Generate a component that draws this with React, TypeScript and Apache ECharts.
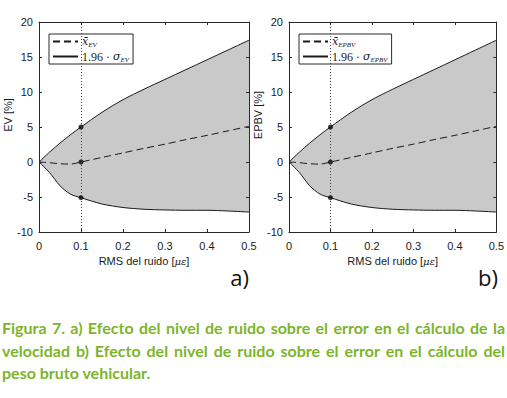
import React, { useEffect, useRef } from "react";
import * as echarts from "echarts";

// RMS noise level (x axis)
const rmsNoise = [0, 0.025, 0.05, 0.075, 0.1, 0.15, 0.2, 0.25, 0.3, 0.35, 0.4, 0.45, 0.5];

// Panel a) EV [%]
const evMean = [0, -0.1, -0.25, -0.3, 0, 0.65, 1.3, 1.95, 2.55, 3.2, 3.8, 4.45, 5.1];
const evUpper = [0, 1.4, 2.7, 3.9, 5.0, 7.1, 8.9, 10.4, 11.8, 13.2, 14.6, 16.0, 17.4];
const evLower = [0, -1.5, -3.4, -4.6, -5.1, -6.0, -6.5, -6.75, -6.85, -6.9, -6.9, -7.0, -7.15];

// Panel b) EPBV [%]
const epbvMean = [0, -0.1, -0.25, -0.3, 0, 0.65, 1.3, 1.95, 2.55, 3.2, 3.8, 4.45, 5.1];
const epbvUpper = [0, 1.4, 2.7, 3.9, 5.0, 7.1, 8.9, 10.4, 11.8, 13.2, 14.6, 16.0, 17.4];
const epbvLower = [0, -1.5, -3.4, -4.6, -5.1, -6.0, -6.5, -6.75, -6.85, -6.9, -6.9, -7.0, -7.15];

// Reference noise level and the marked values there
const refRms = 0.1;
const evMarkers = [5.0, 0, -5.1];
const epbvMarkers = [5.0, 0, -5.1];

const yTicks = { min: -10, max: 20, interval: 5 };
const xTicks = { min: 0, max: 0.5, interval: 0.1 };

const captionLines = [
  "Figura 7. a) Efecto del nivel de ruido sobre el error en el cálculo de la",
  "velocidad b) Efecto del nivel de ruido sobre el error en el cálculo del",
  "peso bruto vehicular.",
];

const AXIS = "#2a2a2a";
const LABEL = "#1a1a1a";
const FILL = "#c9c9c9";
const GREEN = "#7db52a";
const CAP_FONT_FAMILY = "Lato";
const CAP_FONT_SIZE = 16;
const CAP_FONT_WEIGHT = 700;

function measure(text: string, font: string): number {
  const ctx = document.createElement("canvas").getContext("2d")!;
  ctx.font = font;
  return ctx.measureText(text).width;
}

function pairs(xs: number[], ys: number[]) {
  return xs.map((x, i) => [x, ys[i]]);
}

export default function App() {
  const ref = useRef<HTMLDivElement>(null);

  useEffect(() => {
    if (!ref.current) return;
    const chart = echarts.init(ref.current, undefined, { renderer: "svg" });

    const grids = [
      { left: 39, top: 22, width: 210, height: 210 },
      { left: 289, top: 22, width: 209, height: 210 },
    ];

    const xAxes: any[] = [];
    const yAxes: any[] = [];
    const yNames = ["EV [%]", "EPBV [%]"];
    grids.forEach((_, g) => {
      const common = {
        gridIndex: g,
        type: "value",
        z: 10,
        ...xTicks,
        axisLine: { show: true, onZero: false, lineStyle: { color: AXIS, width: 1 } },
        axisTick: { show: true, inside: true, length: 3, lineStyle: { color: AXIS } },
        splitLine: { show: false },
      };
      xAxes.push({
        ...common,
        position: "bottom",
        axisLabel: {
          color: LABEL,
          fontFamily: "Liberation Sans",
          fontSize: 11,
          margin: 8,
          formatter: (v: number) => String(Math.round(v * 10) / 10),
        },
        name: "{n|RMS del ruido [}{m|με}{n|]}",
        nameLocation: "middle",
        nameGap: 22,
        nameTextStyle: {
          rich: {
            n: { fontFamily: "Liberation Sans", fontSize: 11, color: LABEL },
            m: { fontFamily: "DejaVu Serif", fontStyle: "italic", fontSize: 10, color: LABEL },
          },
        },
      });
      xAxes.push({ ...common, position: "top", axisLabel: { show: false } });
      const ycommon = {
        gridIndex: g,
        type: "value",
        z: 10,
        ...yTicks,
        axisLine: { show: true, onZero: false, lineStyle: { color: AXIS, width: 1 } },
        axisTick: { show: true, inside: true, length: 3, lineStyle: { color: AXIS } },
        splitLine: { show: false },
      };
      yAxes.push({
        ...ycommon,
        position: "left",
        axisLabel: { color: LABEL, fontFamily: "Liberation Sans", fontSize: 11, margin: 6 },
        name: yNames[g],
        nameLocation: "middle",
        nameGap: 20,
        nameTextStyle: {
          fontFamily: "Liberation Sans",
          fontSize: 11,
          color: LABEL,
          padding: [0, 0, 0, 24],
        },
      });
      yAxes.push({ ...ycommon, position: "right", axisLabel: { show: false } });
    });

    const panels = [
      { mean: evMean, up: evUpper, lo: evLower, mk: evMarkers, key: "EV" },
      { mean: epbvMean, up: epbvUpper, lo: epbvLower, mk: epbvMarkers, key: "EPBV" },
    ];

    const series: any[] = [];
    const legends: any[] = [];
    panels.forEach((p, g) => {
      const xi = g * 2;
      const yi = g * 2;
      // gray fill from axis start up to the upper bound
      series.push({
        type: "line",
        xAxisIndex: xi,
        yAxisIndex: yi,
        data: pairs(rmsNoise, p.up),
        smooth: 0.3,
        symbol: "none",
        silent: true,
        lineStyle: { opacity: 0 },
        areaStyle: { color: FILL, opacity: 1, origin: "start" },
        z: 1,
      });
      // white fill from axis start up to the lower bound (leaves the band gray)
      series.push({
        type: "line",
        xAxisIndex: xi,
        yAxisIndex: yi,
        data: pairs(rmsNoise, p.lo),
        smooth: 0.3,
        symbol: "none",
        silent: true,
        lineStyle: { opacity: 0 },
        areaStyle: { color: "#ffffff", opacity: 1, origin: "start" },
        z: 1,
      });
      series.push({
        name: "sigma" + p.key,
        type: "line",
        xAxisIndex: xi,
        yAxisIndex: yi,
        data: pairs(rmsNoise, p.up),
        smooth: 0.3,
        symbol: "none",
        lineStyle: { color: "#1a1a1a", width: 1 },
        itemStyle: { color: "#1a1a1a" },
        z: 3,
      });
      series.push({
        name: "lower" + p.key,
        type: "line",
        xAxisIndex: xi,
        yAxisIndex: yi,
        data: pairs(rmsNoise, p.lo),
        smooth: 0.3,
        symbol: "none",
        lineStyle: { color: "#1a1a1a", width: 1 },
        z: 3,
      });
      series.push({
        name: "mean" + p.key,
        type: "line",
        xAxisIndex: xi,
        yAxisIndex: yi,
        data: pairs(rmsNoise, p.mean),
        smooth: 0.3,
        symbol: "none",
        lineStyle: { color: "#1a1a1a", width: 1, type: [7, 4] },
        itemStyle: { color: "#1a1a1a" },
        z: 3,
        markLine: {
          silent: true,
          symbol: "none",
          label: { show: false },
          lineStyle: { color: "#444", width: 1, type: [1, 2] },
          data: [{ xAxis: refRms }],
        },
      });
      series.push({
        type: "scatter",
        xAxisIndex: xi,
        yAxisIndex: yi,
        data: p.mk.map((v) => [refRms, v]),
        symbolSize: 5,
        itemStyle: { color: "#000" },
        z: 4,
        silent: true,
      });
      legends.push({
        data: ["mean" + p.key, "sigma" + p.key],
        orient: "vertical",
        left: grids[g].left + 10,
        top: 34,
        selectedMode: false,
        backgroundColor: "#fff",
        borderColor: AXIS,
        borderWidth: 1,
        borderRadius: 0,
        padding: [1, 4, 1, 3],
        itemWidth: 25,
        itemHeight: 12,
        itemGap: 2,
        itemStyle: { opacity: 0 },
        formatter: (name: string) =>
          name.startsWith("mean")
            ? `{it|x̄}{sub|${p.key}}`
            : `{rm|1.96 · }{it|σ}{sub|${p.key}}`,
        textStyle: {
          color: "#1a1a1a",
          padding: [0, 0, 0, -1],
          rich: {
            it: { fontFamily: "DejaVu Serif", fontStyle: "italic", fontSize: 11, lineHeight: 14 },
            rm: { fontFamily: "Liberation Serif", fontSize: 12, lineHeight: 14 },
            sub: {
              fontFamily: "Liberation Serif",
              fontStyle: "italic",
              fontSize: 7,
              lineHeight: 14,
              padding: [6, 0, 0, 0],
            },
          },
        },
      });
    });

    // Caption (justified lines 1 and 2)
    const capFont = `${CAP_FONT_WEIGHT} ${CAP_FONT_SIZE}px ${CAP_FONT_FAMILY}`;
    const capLeft = 2;
    const capRight = 505;
    const capY = [327, 350, 372];
    const graphics: any[] = [];
    captionLines.forEach((line, li) => {
      const style = {
        fill: GREEN,
        fontFamily: CAP_FONT_FAMILY,
        fontSize: CAP_FONT_SIZE,
        fontWeight: CAP_FONT_WEIGHT,
        verticalAlign: "middle",
        align: "left",
      };
      if (li === captionLines.length - 1) {
        graphics.push({ type: "text", x: capLeft, y: capY[li], style: { ...style, text: line } });
        return;
      }
      const words = line.split(" ");
      const widths = words.map((w) => measure(w, capFont));
      const total = widths.reduce((a, b) => a + b, 0);
      const gap = (capRight - capLeft - total) / (words.length - 1);
      let x = capLeft;
      words.forEach((w, wi) => {
        graphics.push({ type: "text", x, y: capY[li], style: { ...style, text: w } });
        x += widths[wi] + gap;
      });
    });
    ["a)", "b)"].forEach((t, g) => {
      graphics.push({
        type: "text",
        x: grids[g].left + grids[g].width,
        y: 277,
        style: {
          text: t,
          fill: "#111",
          fontFamily: "Open Sans",
          fontSize: 22,
          align: "right",
          verticalAlign: "middle",
        },
      });
    });

    chart.setOption({
      animation: false,
      backgroundColor: "#fff",
      grid: grids.map((g) => ({ ...g, show: false })),
      xAxis: xAxes,
      yAxis: yAxes,
      legend: legends,
      series,
      graphic: graphics,
    });

    return () => chart.dispose();
  }, []);

  return (
    <div
      ref={ref}
      style={{ position: "fixed", left: 0, top: 0, width: 507, height: 398 }}
    />
  );
}
